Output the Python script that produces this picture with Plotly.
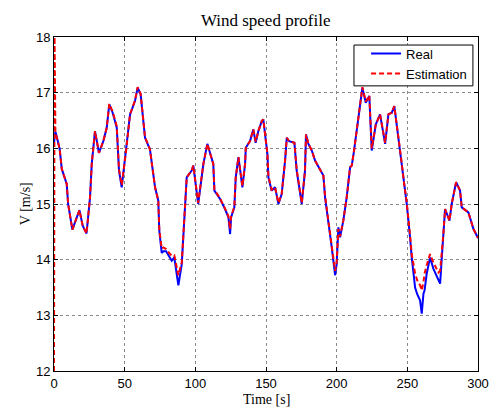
import plotly.graph_objects as go

time_s = [0, 0.4, 1, 2, 4, 5.5, 9, 10, 13, 16, 18, 20.3, 23, 25.5, 26.7, 29, 31.8, 34.9, 37.3, 39.1,
          41.5, 44.4, 46, 47.9, 49, 51, 53.8, 57.3, 59.2, 61.3, 64.4, 67.9, 71.5, 73.8, 74.5, 76.2,
          77.4, 79.3, 81.5, 83.3, 85.1, 88, 90.4, 91.5, 93.9, 97.4, 98.6, 102, 105.7, 108.5, 110,
          112.7, 113.5, 117.5, 121, 123.4, 124.6, 125.3, 127.6, 128.6, 130.5, 131.6, 133.3, 135.2,
          135.7, 138.7, 141, 142.7, 144.6, 147, 148.1, 151, 151.7, 154, 156.4, 158.8, 161.1, 163.5,
          164.7, 166.3, 170.1, 171.7, 175.3, 177.6, 178.3, 180, 182.4, 184.7, 189.4, 190.6, 191.8,
          194.9, 196.5, 198.9, 200, 201.2, 202.4, 204.7, 207.1, 209.5, 210.7, 212.3, 215.4, 218.2,
          220.6, 223.1, 224.8, 227.7, 230.7, 234.3, 236.6, 239, 240.8, 242.5, 244.9, 246, 247.7,
          249.6, 251.9, 253.1, 255.5, 257, 259, 260.2, 261.4, 262.2, 263.7, 266.1, 268.4, 272,
          273.2, 274.4, 275.5, 276.7, 279.8, 281.4, 284.5, 287.3, 288.5, 293.2, 296.8, 300]

real_v = [16.1, 16.2, 16.3, 16.2, 15.99, 15.63, 15.36, 15.0, 14.54, 14.75, 14.89, 14.61, 14.47, 15.12,
          15.72, 16.31, 15.92, 16.13, 16.37, 16.79, 16.64, 16.37, 15.6, 15.3, 15.54, 15.95, 16.61,
          16.85, 17.09, 16.97, 16.19, 15.98, 15.3, 15.06, 14.52, 14.12, 14.15, 14.15, 14.05, 13.98,
          14.04, 13.54, 13.92, 14.4, 15.48, 15.6, 15.69, 15.0, 15.72, 16.08, 15.96, 15.72, 15.24,
          15.09, 14.91, 14.76, 14.46, 14.76, 14.94, 15.48, 15.84, 15.66, 15.3, 15.72, 16.01, 16.13,
          16.34, 16.1, 16.31, 16.49, 16.52, 15.9, 15.48, 15.24, 15.3, 15.0, 15.18, 15.78, 16.19,
          16.13, 16.1, 15.6, 15.0, 15.6, 16.25, 16.08, 15.96, 15.78, 15.57, 15.51, 15.12, 14.58,
          14.22, 13.72, 13.92, 14.58, 14.4, 14.7, 15.12, 15.66, 15.69, 15.96, 16.55, 17.09, 16.82,
          16.94, 15.96, 16.43, 16.61, 16.08, 16.61, 16.64, 16.76, 16.43, 15.96, 15.72, 15.36, 15.0,
          14.4, 14.04, 13.5, 13.38, 13.27, 13.03, 13.39, 13.45, 13.75, 14.04, 13.84, 13.63, 13.57,
          14.04, 14.46, 14.91, 14.7, 15.0, 15.39, 15.24, 14.94, 14.85, 14.55, 14.39]

est_v = [12.0, 18.0, 16.3, 16.2, 15.99, 15.63, 15.36, 15.0, 14.54, 14.75, 14.89, 14.61, 14.47, 15.12,
         15.72, 16.31, 15.92, 16.13, 16.37, 16.8, 16.66, 16.4, 15.62, 15.34, 15.55, 15.95, 16.61,
         16.86, 17.1, 16.98, 16.2, 15.98, 15.3, 15.06, 14.55, 14.2, 14.22, 14.19, 14.12, 14.07,
         14.08, 13.72, 13.95, 14.4, 15.48, 15.6, 15.69, 15.02, 15.72, 16.08, 15.96, 15.72, 15.26,
         15.1, 14.92, 14.78, 14.55, 14.78, 14.95, 15.48, 15.84, 15.66, 15.32, 15.72, 16.01, 16.13,
         16.34, 16.12, 16.31, 16.49, 16.52, 15.9, 15.5, 15.26, 15.3, 15.02, 15.18, 15.78, 16.19,
         16.13, 16.1, 15.62, 15.02, 15.6, 16.25, 16.08, 15.96, 15.78, 15.57, 15.51, 15.14, 14.6,
         14.25, 13.8, 13.95, 14.55, 14.42, 14.7, 15.12, 15.66, 15.69, 15.96, 16.55, 17.1, 16.84,
         16.95, 16.0, 16.43, 16.61, 16.1, 16.61, 16.64, 16.76, 16.45, 15.98, 15.74, 15.38, 15.02,
         14.45, 14.1, 13.75, 13.63, 13.54, 13.45, 13.6, 13.75, 13.9, 14.1, 13.95, 13.77, 13.8,
         14.1, 14.46, 14.91, 14.7, 15.0, 15.39, 15.24, 14.94, 14.85, 14.55, 14.39]

fig = go.Figure()
fig.add_trace(go.Scatter(x=time_s, y=real_v, mode="lines", name="Real",
                         line=dict(color="#0000ff", width=2)))
fig.add_trace(go.Scatter(x=time_s, y=est_v, mode="lines", name="Estimation",
                         line=dict(color="#ff0000", width=2, dash="5px,3px")))

axis_common = dict(showline=True, linecolor="black", linewidth=1, mirror="ticks",
                   ticks="inside", ticklen=4, tickcolor="black", automargin=False,
                   showgrid=True, gridcolor="#888888", griddash="dot", gridwidth=1,
                   zeroline=False,
                   tickfont=dict(family="Liberation Sans, Arial", size=13, color="black"))

title_font = dict(family="Liberation Serif, DejaVu Serif, serif", size=14, color="black")

fig.update_layout(
    width=492, height=409,
    margin=dict(l=54, r=14, t=37, b=38),
    paper_bgcolor="white", plot_bgcolor="white",
    title=dict(text="Wind speed profile", x=0.54, xanchor="center", y=0.952, yanchor="middle",
               automargin=False,
               font=dict(family="Liberation Serif, DejaVu Serif, serif", size=17, color="black")),
    xaxis=dict(range=[0, 300], dtick=50, tick0=0, **axis_common),
    yaxis=dict(range=[12, 18], dtick=1, tick0=12, **axis_common),
    legend=dict(x=0.736, y=0.995, xanchor="left", yanchor="top",
                borderwidth=0, bgcolor="rgba(0,0,0,0)",
                font=dict(family="Liberation Sans, Arial", size=13, color="black"),
                tracegroupgap=0, itemwidth=30),
    showlegend=True,
    shapes=[dict(type="rect", xref="paper", yref="paper",
                 x0=0.7075, x1=0.988, y0=0.8537, y1=0.976,
                 fillcolor="white", line=dict(color="black", width=1), layer="above")],
    annotations=[
        dict(text="Time [s]", xref="paper", yref="paper", x=0.5, y=-0.086,
             xanchor="center", yanchor="middle", showarrow=False, font=title_font),
        dict(text="V [m/s]", xref="paper", yref="paper", x=-0.068, y=0.5,
             xanchor="center", yanchor="middle", showarrow=False, textangle=-90,
             font=title_font),
    ],
)

fig.write_html("out.html")
